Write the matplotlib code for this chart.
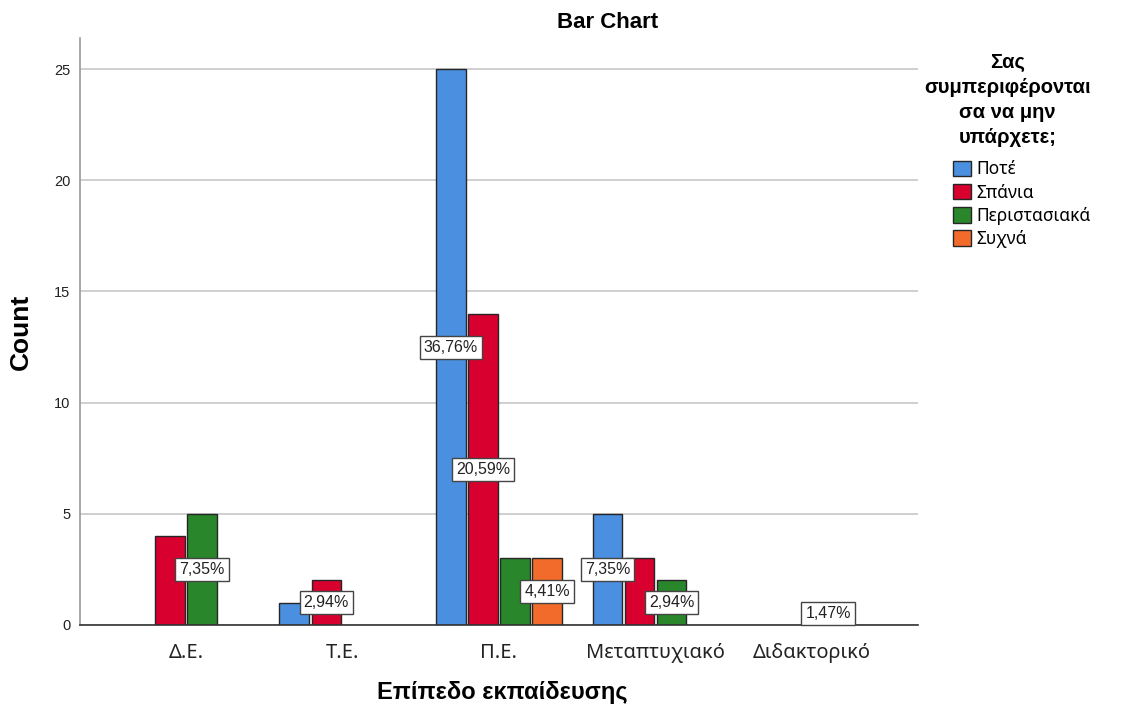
import numpy as np
import matplotlib.pyplot as plt

plt.rcParams['font.family'] = ['Liberation Sans', 'DejaVu Sans']

# Categories on the x axis and the series in the legend
categories = ['Δ.Ε.', 'Τ.Ε.', 'Π.Ε.', 'Μεταπτυχιακό', 'Διδακτορικό']
series_names = ['Ποτέ', 'Σπάνια', 'Περιστασιακά', 'Συχνά']

# Counts per series (one value per category)
never_counts = [0, 1, 25, 5, 0]
rarely_counts = [4, 2, 14, 3, 0]
occasionally_counts = [5, 0, 3, 2, 1]
often_counts = [0, 0, 3, 0, 0]

# Percentage labels shown on the bars ('' = no label)
never_labels = ['', '', '36,76%', '7,35%', '']
rarely_labels = ['', '2,94%', '20,59%', '', '']
occasionally_labels = ['7,35%', '', '', '2,94%', '1,47%']
often_labels = ['', '', '4,41%', '', '']

colors = ['#4a8fe0', '#d8002e', '#2a862a', '#f26b2a']

all_counts = [never_counts, rarely_counts, occasionally_counts, often_counts]
all_labels = [never_labels, rarely_labels, occasionally_labels, often_labels]

fig = plt.figure(figsize=(11.31, 7.11), dpi=100)
ax = fig.add_axes([0.0707, 0.121, 0.741, 0.8256])

x = np.arange(len(categories))
width = 0.19
step = 0.205

for i, (vals, labs) in enumerate(zip(all_counts, all_labels)):
    vals = np.array(vals, dtype=float)
    pos = x + (i - 1.5) * step
    keep = vals > 0
    ax.bar(pos[keep], vals[keep], width=width, color=colors[i],
           edgecolor='#262626', linewidth=1.0, zorder=3, label=series_names[i])
    for px, v, lab in zip(pos, vals, labs):
        if lab:
            ax.text(px, v / 2, lab, ha='center', va='center', fontsize=11.5,
                    color='#222222', zorder=5,
                    bbox=dict(boxstyle='square,pad=0.25', facecolor='white',
                              edgecolor='#444444', linewidth=1.0))

ax.set_xlim(-0.677, 4.677)
ax.set_ylim(0, 26.4)
ax.set_yticks([0, 5, 10, 15, 20, 25])
ax.set_xticks(x)
ax.set_xticklabels(categories, fontsize=14.4, color='#222222',
                   family=['Noto Sans', 'DejaVu Sans'])
ax.tick_params(axis='y', length=0, pad=7, labelsize=10.5, labelcolor='#222222')
ax.tick_params(axis='x', length=0, pad=13)
ax.grid(axis='y', color='#cccccc', linewidth=1.3, zorder=0)
ax.set_axisbelow(True)

for s in ['top', 'right']:
    ax.spines[s].set_visible(False)
ax.spines['left'].set_color('#999999')
ax.spines['left'].set_linewidth(1.2)
ax.spines['bottom'].set_color('#333333')
ax.spines['bottom'].set_linewidth(1.2)
ax.spines['bottom'].set_zorder(4)

ax.set_ylabel('Count', fontsize=19, fontweight='bold')
ax.yaxis.set_label_coords(-0.056, 0.5)
fig.text(0.444, 1 - 693 / 711, 'Επίπεδο εκπαίδευσης', ha='center', va='center',
         fontsize=17, fontweight='bold')

fig.text(0.537, 0.968, 'Bar Chart', ha='center', va='center',
         fontsize=16, fontweight='bold')

leg = ax.legend(loc='upper right', bbox_to_anchor=(0.972, 0.937),
                bbox_transform=fig.transFigure, frameon=False,
                title='Σας\nσυμπεριφέρονται\nσα να μην\nυπάρχετε;',
                title_fontproperties={'weight': 'bold', 'size': 14.5},
                prop={'family': ['Noto Sans', 'DejaVu Sans'], 'size': 12.5},
                handlelength=1.05, handleheight=1.0,
                handletextpad=0.3, labelspacing=0.3, borderpad=0,
                alignment='right')
leg.get_title().set_multialignment('center')
leg.get_title().set_linespacing(1.38)
leg._legend_box.sep = 10

fig.savefig('out.png', dpi=100)
